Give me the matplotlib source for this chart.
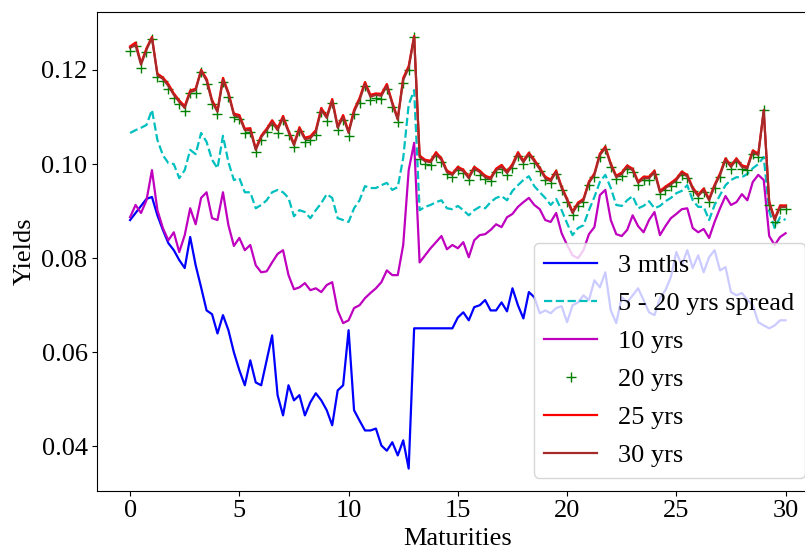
import numpy as np
import matplotlib
matplotlib.use("Agg")
import matplotlib.pyplot as plt

# ================= data =================
# yields sampled every 0.25 on the maturity axis (0 .. 30)
MTH3 = [0.0881, 0.0896, 0.0911, 0.0926, 0.0930, 0.0891, 0.0860, 0.0832, 0.0817, 0.0796,
        0.0779, 0.0845, 0.0785, 0.0738, 0.0689, 0.0681, 0.0640, 0.0679, 0.0647, 0.0600,
        0.0562, 0.0530, 0.0583, 0.0536, 0.0530, 0.0583, 0.0636, 0.0509, 0.0466, 0.0530,
        0.0498, 0.0509, 0.0466, 0.0494, 0.0513, 0.0498, 0.0477, 0.0445, 0.0519, 0.0530,
        0.0647, 0.0477, 0.0455, 0.0434, 0.0434, 0.0438, 0.0402, 0.0391, 0.0409, 0.0381,
        0.0413, 0.0353, 0.0651, 0.0651, 0.0651, 0.0651, 0.0651, 0.0651, 0.0651, 0.0651,
        0.0674, 0.0685, 0.0668, 0.0696, 0.0700, 0.0711, 0.0689, 0.0689, 0.0706, 0.0687,
        0.0736, 0.0700, 0.0672, 0.0728, 0.0717, 0.0683, 0.0689, 0.0683, 0.0694, 0.0698,
        0.0664, 0.0700, 0.0706, 0.0721, 0.0711, 0.0753, 0.0738, 0.0770, 0.0689, 0.0662,
        0.0717, 0.0706, 0.0721, 0.0736, 0.0711, 0.0685, 0.0679, 0.0715, 0.0732, 0.0760,
        0.0813, 0.0785, 0.0817, 0.0779, 0.0806, 0.0770, 0.0802, 0.0817, 0.0774, 0.0781,
        0.0728, 0.0721, 0.0726, 0.0711, 0.0700, 0.0664, 0.0657, 0.0651, 0.0657, 0.0668,
        0.0668]

SPREAD = [0.1066, 0.1072, 0.1077, 0.1083, 0.1115, 0.1051, 0.1019, 0.1002, 0.1000, 0.0970,
          0.0987, 0.1030, 0.1021, 0.1066, 0.1047, 0.1009, 0.0991, 0.1060, 0.1004, 0.0966,
          0.0970, 0.0940, 0.0940, 0.0906, 0.0913, 0.0923, 0.0940, 0.0945, 0.0940, 0.0928,
          0.0889, 0.0902, 0.0898, 0.0885, 0.0902, 0.0917, 0.0936, 0.0928, 0.0885, 0.0881,
          0.0877, 0.0906, 0.0923, 0.0953, 0.0949, 0.0949, 0.0955, 0.0960, 0.0945, 0.0951,
          0.1013, 0.1126, 0.1157, 0.0902, 0.0909, 0.0913, 0.0919, 0.0923, 0.0906, 0.0904,
          0.0911, 0.0902, 0.0891, 0.0902, 0.0909, 0.0906, 0.0919, 0.0928, 0.0932, 0.0923,
          0.0943, 0.0955, 0.0966, 0.0974, 0.0953, 0.0940, 0.0928, 0.0913, 0.0926, 0.0902,
          0.0874, 0.0849, 0.0864, 0.0870, 0.0902, 0.0930, 0.0962, 0.0977, 0.0949, 0.0913,
          0.0911, 0.0923, 0.0932, 0.0906, 0.0911, 0.0921, 0.0906, 0.0911, 0.0921, 0.0928,
          0.0938, 0.0943, 0.0955, 0.0923, 0.0909, 0.0909, 0.0881, 0.0913, 0.0934, 0.0955,
          0.0966, 0.0972, 0.0972, 0.0979, 0.0991, 0.1000, 0.1015, 0.0900, 0.0864, 0.0887,
          0.0881]

YR10 = [0.0887, 0.0913, 0.0896, 0.0923, 0.0987, 0.0902, 0.0864, 0.0838, 0.0855, 0.0813,
        0.0849, 0.0906, 0.0872, 0.0928, 0.0940, 0.0885, 0.0881, 0.0940, 0.0870, 0.0826,
        0.0843, 0.0817, 0.0828, 0.0785, 0.0770, 0.0772, 0.0791, 0.0809, 0.0817, 0.0764,
        0.0734, 0.0738, 0.0747, 0.0732, 0.0736, 0.0728, 0.0743, 0.0749, 0.0689, 0.0662,
        0.0668, 0.0694, 0.0700, 0.0715, 0.0726, 0.0736, 0.0749, 0.0774, 0.0764, 0.0764,
        0.0828, 0.0987, 0.1045, 0.0791, 0.0806, 0.0821, 0.0834, 0.0847, 0.0819, 0.0828,
        0.0821, 0.0834, 0.0802, 0.0838, 0.0849, 0.0851, 0.0860, 0.0872, 0.0866, 0.0887,
        0.0894, 0.0909, 0.0919, 0.0928, 0.0913, 0.0904, 0.0881, 0.0877, 0.0896, 0.0853,
        0.0828, 0.0806, 0.0800, 0.0817, 0.0851, 0.0866, 0.0934, 0.0945, 0.0881, 0.0851,
        0.0847, 0.0860, 0.0891, 0.0868, 0.0855, 0.0881, 0.0898, 0.0849, 0.0868, 0.0885,
        0.0894, 0.0904, 0.0906, 0.0864, 0.0855, 0.0862, 0.0843, 0.0877, 0.0906, 0.0932,
        0.0913, 0.0919, 0.0936, 0.0923, 0.0962, 0.0977, 0.0966, 0.0847, 0.0828, 0.0845,
        0.0853]

YR20 = [0.1240, 0.1250, 0.1205, 0.1238, 0.1265, 0.1185, 0.1176, 0.1160, 0.1140, 0.1128,
        0.1112, 0.1150, 0.1150, 0.1195, 0.1170, 0.1128, 0.1106, 0.1175, 0.1143, 0.1100,
        0.1096, 0.1066, 0.1068, 0.1025, 0.1052, 0.1068, 0.1083, 0.1066, 0.1094, 0.1062,
        0.1036, 0.1070, 0.1047, 0.1050, 0.1062, 0.1111, 0.1092, 0.1130, 0.1072, 0.1094,
        0.1060, 0.1106, 0.1130, 0.1166, 0.1137, 0.1141, 0.1139, 0.1160, 0.1122, 0.1090,
        0.1172, 0.1200, 0.1270, 0.1011, 0.1000, 0.0998, 0.1017, 0.1004, 0.0979, 0.0972,
        0.0987, 0.0980, 0.0966, 0.0987, 0.0977, 0.0968, 0.0963, 0.0983, 0.0989, 0.0977,
        0.0991, 0.1017, 0.1000, 0.1017, 0.1002, 0.0985, 0.0966, 0.0960, 0.0979, 0.0945,
        0.0919, 0.0892, 0.0911, 0.0919, 0.0955, 0.0972, 0.1015, 0.1032, 0.0994, 0.0968,
        0.0975, 0.0990, 0.0983, 0.0956, 0.0966, 0.0966, 0.0979, 0.0936, 0.0945, 0.0953,
        0.0962, 0.0977, 0.0970, 0.0943, 0.0928, 0.0941, 0.0919, 0.0949, 0.0972, 0.1005,
        0.0990, 0.1004, 0.0990, 0.0987, 0.1022, 0.1015, 0.1115, 0.0913, 0.0877, 0.0905,
        0.0905]

YR25 = [0.1250, 0.1258, 0.1214, 0.1246, 0.1270, 0.1192, 0.1184, 0.1170, 0.1150, 0.1135,
        0.1123, 0.1156, 0.1160, 0.1200, 0.1181, 0.1136, 0.1114, 0.1183, 0.1152, 0.1107,
        0.1104, 0.1075, 0.1076, 0.1033, 0.1060, 0.1075, 0.1093, 0.1076, 0.1102, 0.1071,
        0.1043, 0.1078, 0.1056, 0.1059, 0.1072, 0.1119, 0.1101, 0.1138, 0.1080, 0.1104,
        0.1069, 0.1115, 0.1140, 0.1174, 0.1147, 0.1150, 0.1149, 0.1170, 0.1131, 0.1097,
        0.1183, 0.1208, 0.1272, 0.1018, 0.1009, 0.1007, 0.1025, 0.1012, 0.0986, 0.0980,
        0.0994, 0.0988, 0.0973, 0.0994, 0.0986, 0.0975, 0.0971, 0.0990, 0.0998, 0.0984,
        0.1000, 0.1025, 0.1007, 0.1024, 0.1009, 0.0992, 0.0973, 0.0967, 0.0986, 0.0952,
        0.0926, 0.0899, 0.0918, 0.0926, 0.0963, 0.0980, 0.1022, 0.1037, 0.1001, 0.0975,
        0.0982, 0.0997, 0.0990, 0.0963, 0.0973, 0.0973, 0.0986, 0.0943, 0.0952, 0.0960,
        0.0969, 0.0984, 0.0977, 0.0950, 0.0935, 0.0948, 0.0926, 0.0956, 0.0980, 0.1012,
        0.0997, 0.1012, 0.0997, 0.0994, 0.1029, 0.1022, 0.1112, 0.0920, 0.0884, 0.0912,
        0.0912]

YR30 = [0.1247, 0.1253, 0.1211, 0.1243, 0.1268, 0.1189, 0.1181, 0.1166, 0.1147, 0.1132,
        0.1119, 0.1153, 0.1157, 0.1198, 0.1177, 0.1132, 0.1111, 0.1179, 0.1149, 0.1104,
        0.1100, 0.1072, 0.1072, 0.1030, 0.1057, 0.1072, 0.1089, 0.1072, 0.1098, 0.1068,
        0.1040, 0.1074, 0.1053, 0.1055, 0.1068, 0.1115, 0.1098, 0.1134, 0.1077, 0.1100,
        0.1066, 0.1111, 0.1136, 0.1170, 0.1143, 0.1147, 0.1145, 0.1166, 0.1128, 0.1094,
        0.1179, 0.1204, 0.1270, 0.1015, 0.1006, 0.1004, 0.1021, 0.1009, 0.0983, 0.0977,
        0.0991, 0.0985, 0.0970, 0.0991, 0.0983, 0.0972, 0.0968, 0.0987, 0.0994, 0.0981,
        0.0996, 0.1021, 0.1004, 0.1021, 0.1006, 0.0989, 0.0970, 0.0964, 0.0983, 0.0949,
        0.0923, 0.0896, 0.0915, 0.0923, 0.0960, 0.0977, 0.1019, 0.1034, 0.0998, 0.0972,
        0.0979, 0.0994, 0.0987, 0.0960, 0.0970, 0.0970, 0.0983, 0.0940, 0.0949, 0.0957,
        0.0966, 0.0981, 0.0974, 0.0947, 0.0932, 0.0945, 0.0923, 0.0953, 0.0977, 0.1009,
        0.0994, 0.1009, 0.0994, 0.0991, 0.1026, 0.1019, 0.1115, 0.0917, 0.0881, 0.0909,
        0.0909]

LABELS = ["3 mths", "5 - 20 yrs spread", "10 yrs", "20 yrs", "25 yrs", "30 yrs"]
# =========================================

plt.rcParams["font.family"] = ["Liberation Serif", "DejaVu Serif"]
plt.rcParams["font.size"] = 19

x = np.linspace(0, 30, len(YR30))
LW = 1.6

fig = plt.figure(figsize=(8.05, 5.5), dpi=100)
# axes run past the right edge of the canvas on purpose
ax = fig.add_axes([0.1209, 0.1078, 0.8957, 0.8704])

ax.plot(x, MTH3, "b", lw=LW, label=LABELS[0])
ax.plot(x, SPREAD, "c--", lw=LW, label=LABELS[1])
ax.plot(x, YR10, "m", lw=LW, label=LABELS[2])
ax.plot(x, YR20, "g+", ms=6.5, label=LABELS[3])
ax.plot(x, YR25, "r", lw=LW, label=LABELS[4])
ax.plot(x, YR30, color="brown", lw=LW, label=LABELS[5])

ax.set_xlim(-1.5, 31.5)
ax.set_ylim(0.0306, 0.1323)
ax.set_xticks([0, 5, 10, 15, 20, 25, 30])
ax.set_yticks([0.04, 0.06, 0.08, 0.10, 0.12])
ax.set_xlabel("Maturities")
ax.set_ylabel("Yields")
ax.legend(loc="lower right", fontsize=19, labelspacing=0.55)

plt.savefig("out.png", dpi=100)
